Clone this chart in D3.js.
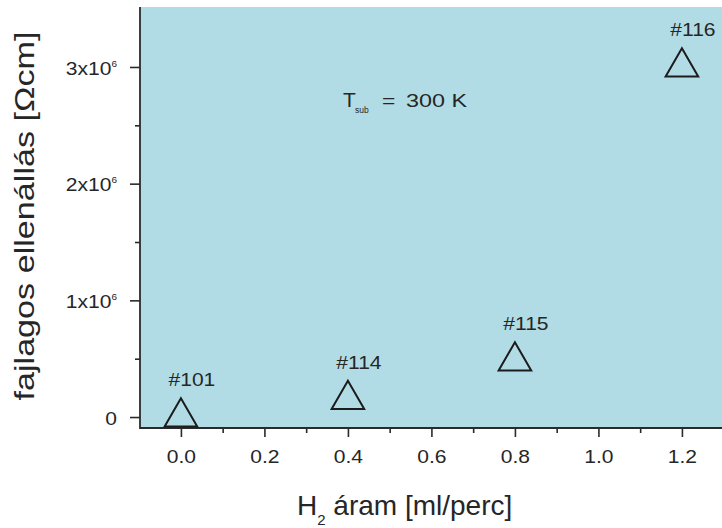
<!DOCTYPE html>
<html>
<head>
<meta charset="utf-8">
<script src="https://cdn.jsdelivr.net/npm/d3@7"></script>
<style>
  body { margin: 0; background: #ffffff; }
  text { font-family: "Liberation Sans", Arial, Helvetica, sans-serif; fill: #262626; }
</style>
</head>
<body>
<svg id="chart" width="722" height="528"></svg>
<script>
// Sample labels and measured values
const sampleIds   = ["#101", "#114", "#115", "#116"];
const h2Flow      = [0.0, 0.4, 0.8, 1.2];          // ml/perc
const resistivity = [0, 0.15e6, 0.48e6, 3.0e6];     // Ω·cm

// Axis ticks
const xTickValues  = [0.0, 0.2, 0.4, 0.6, 0.8, 1.0, 1.2];
const xMinorTicks  = [0.1, 0.3, 0.5, 0.7, 0.9, 1.1];
const yTickValues  = [0, 1e6, 2e6, 3e6];
const yTickLabels  = ["0", "1x10", "2x10", "3x10"];
const yTickExp     = ["", "6", "6", "6"];
const yMinorTicks  = [0.5e6, 1.5e6, 2.5e6];

const plot = { left: 140, top: 7, right: 722, bottom: 428 };
const SX = 1.17;            // horizontal stretch used for the small labels

const svg = d3.select("#chart");

const x = d3.scaleLinear().domain([-0.098, 1.296]).range([plot.left, plot.right]);
const y = d3.scaleLinear().domain([-0.094e6, 3.514e6]).range([plot.bottom, plot.top]);

// plot background
svg.append("rect")
  .attr("x", plot.left).attr("y", plot.top)
  .attr("width", plot.right - plot.left).attr("height", plot.bottom - plot.top)
  .attr("fill", "#b1dce5");

// ---- x axis ----
const gx = svg.append("g").attr("transform", `translate(0,${plot.bottom})`);
gx.call(d3.axisBottom(x).tickValues(xTickValues).tickSize(9).tickPadding(13)
  .tickFormat(d3.format(".1f")));
gx.append("g").call(d3.axisBottom(x).tickValues(xMinorTicks).tickSize(5).tickFormat(""))
  .select(".domain").remove();
gx.select(".domain").remove();
gx.selectAll(".tick line").attr("stroke", "#2a2a2a").attr("stroke-width", 1.6);
gx.selectAll(".tick text")
  .attr("font-size", 18).attr("fill", "#2a2a2a")
  .attr("transform", `scale(${SX},1)`);

// ---- y axis ----
const gy = svg.append("g").attr("transform", `translate(${plot.left},0)`);
gy.call(d3.axisLeft(y).tickValues(yTickValues).tickSize(10).tickPadding(13));
gy.append("g").call(d3.axisLeft(y).tickValues(yMinorTicks).tickSize(5).tickFormat(""))
  .select(".domain").remove();
gy.select(".domain").remove();
gy.selectAll(".tick line").attr("stroke", "#2a2a2a").attr("stroke-width", 1.6);
gy.selectAll(".tick text").each(function(d) {
  const t = d3.select(this);
  const idx = yTickValues.indexOf(d);
  if (idx < 0) return;
  const xPos = +t.attr("x");
  t.text(null)
    .attr("font-size", 18).attr("fill", "#2a2a2a")
    .attr("x", xPos / SX)
    .attr("transform", `scale(${SX},1)`)
    .attr("dy", "0.40em");
  t.append("tspan").text(yTickLabels[idx]);
  if (yTickExp[idx]) {
    t.append("tspan").text(yTickExp[idx]).attr("font-size", 8.5).attr("dy", -8);
  }
});

// axis lines
svg.append("line")
  .attr("x1", plot.left).attr("x2", plot.left)
  .attr("y1", plot.top).attr("y2", plot.bottom + 1)
  .attr("stroke", "#2a2a2a").attr("stroke-width", 1.8);
svg.append("line")
  .attr("x1", plot.left).attr("x2", plot.right)
  .attr("y1", plot.bottom).attr("y2", plot.bottom)
  .attr("stroke", "#2a2a2a").attr("stroke-width", 1.8);

// ---- markers ----
const tri = d3.symbol().type(d3.symbolTriangle).size(460);
const pts = svg.append("g");
h2Flow.forEach((h, i) => {
  pts.append("path")
    .attr("d", tri())
    .attr("transform", `translate(${x(h)},${y(resistivity[i])})`)
    .attr("fill", "none")
    .attr("stroke", "#1c1c1c")
    .attr("stroke-width", 2)
    .attr("stroke-linejoin", "miter");
  pts.append("text")
    .attr("text-anchor", "middle")
    .attr("font-size", 18)
    .attr("fill", "#2a2a2a")
    .attr("transform", `translate(${x(h) + 11},${y(resistivity[i]) - 31}) scale(${SX},1)`)
    .text(sampleIds[i]);
});

// ---- substrate temperature note ----
const note = svg.append("g");
note.append("text").attr("x", 343).attr("y", 107).attr("font-size", 21).text("T");
note.append("text").attr("x", 355).attr("y", 113).attr("font-size", 8.5).text("sub");
note.append("text").attr("transform", `translate(382,107) scale(1.2,1)`)
  .attr("font-size", 19).text("=");
note.append("text").attr("transform", `translate(406,107) scale(1.23,1)`)
  .attr("font-size", 19).text("300 K");

// ---- axis titles ----
const xt = svg.append("text")
  .attr("x", 297).attr("y", 515)
  .attr("font-size", 28).attr("fill", "#222");
xt.append("tspan").text("H");
xt.append("tspan").text("2").attr("font-size", 15).attr("dy", 10);
xt.append("tspan").text(" áram [ml/perc]").attr("dy", -10);

svg.append("text")
  .attr("text-anchor", "middle")
  .attr("font-size", 28).attr("fill", "#222")
  .attr("transform", `translate(34,216) rotate(-90) scale(1.22,1)`)
  .text("fajlagos ellenállás [Ωcm]");
</script>
</body>
</html>
